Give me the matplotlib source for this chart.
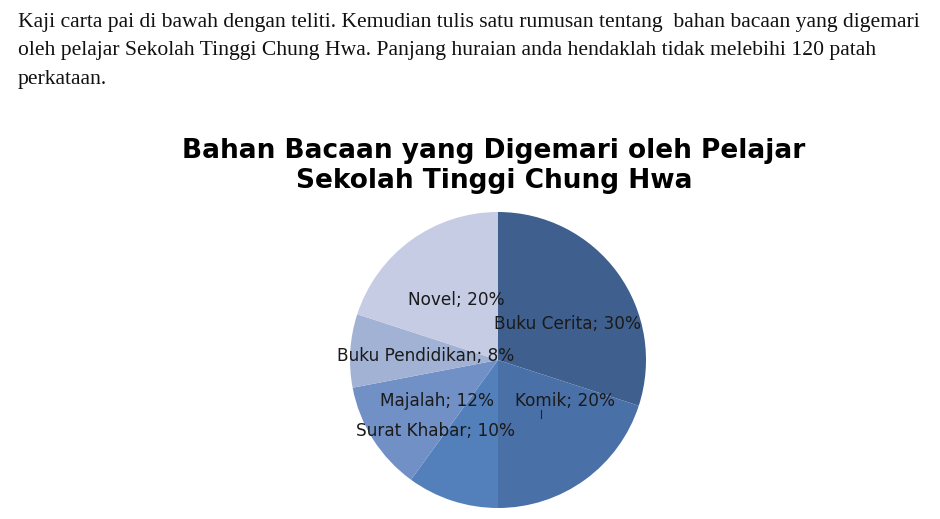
"""
pie chart: bahan bacaan yang digemari
"""

import matplotlib
matplotlib.use("Agg")
import matplotlib.pyplot as plt

# data
categories = ["Buku Cerita", "Komik", "Surat Khabar", "Majalah", "Buku Pendidikan", "Novel"]
percentages = [30, 20, 10, 12, 8, 20]
colours = ["#3f5f8e", "#4a70a8", "#5380bb", "#7190c6", "#a2b2d5", "#c5cce4"]

# label spots inside the pie, in units of the radius
label_spots = [(0.47, 0.24), (0.45, -0.28), (-0.42, -0.48),
               (-0.41, -0.28), (-0.49, 0.03), (-0.28, 0.405)]

question = [
    "Kaji carta pai di bawah dengan teliti. Kemudian tulis satu rumusan tentang  bahan bacaan yang digemari",
    "oleh pelajar Sekolah Tinggi Chung Hwa. Panjang huraian anda hendaklah tidak melebihi 120 patah",
    "perkataan.",
]
title_lines = ["Bahan Bacaan yang Digemari oleh Pelajar", "Sekolah Tinggi Chung Hwa"]

W, H = 940, 519
fig = plt.figure(figsize=(W / 100, H / 100), dpi=100)

# question text at the top
for i, line in enumerate(question):
    fig.text(18 / W, 1 - (27 + 28.5 * i) / H, line, family="Liberation Serif",
             fontsize=15.6, color="#111111", ha="left", va="baseline")

# chart title, one text per line so the baselines can be set
for i, line in enumerate(title_lines):
    fig.text(494 / W, 1 - (158 + 30 * i) / H, line, family="DejaVu Sans",
             fontweight="bold", fontsize=19, ha="center", va="baseline")

# pie axes placed so that the pie sits where it does in the picture
cx, cy, r = 498, 360, 148
ax = fig.add_axes([(cx - r) / W, (H - cy - r) / H, 2 * r / W, 2 * r / H])
ax.pie(percentages, colors=colours, startangle=90, counterclock=False,
       radius=1, wedgeprops={"linewidth": 0})
ax.set_xlim(-1, 1)
ax.set_ylim(-1, 1)
ax.set_aspect("equal")
ax.axis("off")

for name, pct, (lx, ly) in zip(categories, percentages, label_spots):
    ax.text(lx, ly, f"{name}; {pct}%", ha="center", va="center",
            family="DejaVu Sans", fontsize=12.2, color="#1a1a1a")

# small leader stub under Komik
ax.plot([0.29, 0.29], [-0.34, -0.39], color="#222222", linewidth=0.8)

fig.savefig("out.png", dpi=100)
